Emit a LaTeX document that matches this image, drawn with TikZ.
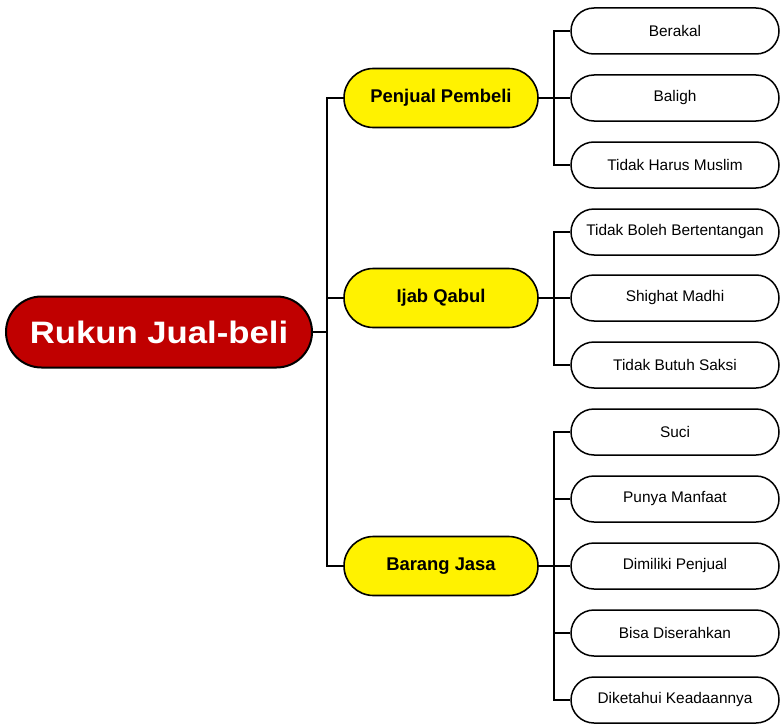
\documentclass[tikz,border=0pt]{standalone}
\usepackage{fontspec}
\setmainfont{Liberation Sans}
\newfontfamily\rootfont[FakeStretch=1.12]{Liberation Sans}
\definecolor{rukunred}{RGB}{192,0,0}

\tikzset{
  akar/.style={draw=black, line width=2pt, fill=rukunred, rounded corners=35.5pt,
    minimum width=306pt, minimum height=71pt, inner sep=0pt, text=white,
    font=\rootfont\bfseries\fontsize{31}{34}\selectfont},
  rukun/.style={draw=black, line width=1.6pt, fill=yellow, rounded corners=29.5pt,
    minimum width=194pt, minimum height=59pt, inner sep=0pt,
    font=\bfseries\fontsize{18.4}{20}\selectfont},
  syarat/.style={draw=black, line width=1.5pt, fill=white, rounded corners=23pt,
    minimum width=208pt, minimum height=46pt, inner sep=0pt,
    font=\fontsize{15.4}{17}\selectfont},
  cabang/.style={line width=1.2pt}
}

\begin{document}
\begin{tikzpicture}[x=1pt,y=-1pt]
   \useasboundingbox (0,0) rectangle (782,725);

   \node[akar] (root) at (159,332) {Rukun Jual-beli};

   \node[rukun] (pp) at (441,98) {Penjual Pembeli};
   \node[rukun] (iq) at (441,298) {Ijab Qabul};
   \node[rukun] (bj) at (441,566) {Barang Jasa};

   \path (327,332) coordinate (trunk);
   \foreach \j in {pp,iq,bj}
   {
      \path (554,0) coordinate (tmp);
      \path (tmp |- \j.east) coordinate (\j-j);
   }

   \foreach \i/\y/\txt in {1/31/Berakal, 2/98/Baligh, 3/165/Tidak Harus Muslim,
      4/232/Tidak Boleh Bertentangan, 5/298/Shighat Madhi, 6/365/Tidak Butuh Saksi,
      7/432/Suci, 8/499/Punya Manfaat, 9/566/Dimiliki Penjual,
      10/633/Bisa Diserahkan, 11/700/Diketahui Keadaannya}
   {
      \node[syarat] (s\i) at (675,\y) {\txt};
   }

   % akar ke rukun
   \draw[line width=2pt] (root.east) -- (trunk);
   \draw[cabang] (pp.west) -| (trunk);
   \draw[cabang] (bj.west) -| (trunk);
   \draw[cabang] (iq.west) -- (iq.west -| trunk);

   % rukun ke syarat
   \foreach \j in {pp,iq,bj}
   {
      \draw[cabang] (\j.east) -- (\j-j);
   }
   \foreach \i/\j in {1/pp,2/pp,3/pp,4/iq,5/iq,6/iq,7/bj,8/bj,9/bj,10/bj,11/bj}
   {
      \draw[cabang] (s\i.west) -| (\j-j);
   }
\end{tikzpicture}
\end{document}
